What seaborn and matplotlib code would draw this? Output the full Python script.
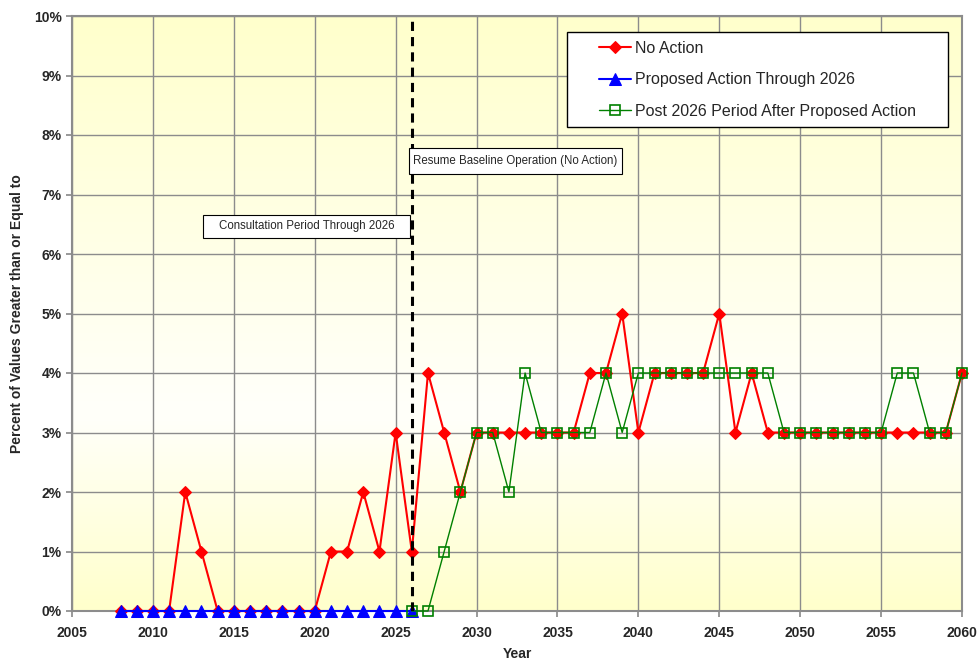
import numpy as np
import pandas as pd
import matplotlib
matplotlib.use("Agg")
import matplotlib.pyplot as plt
import seaborn as sns
from matplotlib.colors import LinearSegmentedColormap
from matplotlib.patches import Rectangle

sns.set_theme(style="white")
plt.rcParams['font.family'] = ['Liberation Sans', 'DejaVu Sans']

years_no_action = list(range(2008, 2061))
no_action = [0, 0, 0, 0, 2, 1, 0, 0, 0, 0, 0, 0, 0, 1, 1, 2, 1, 3, 1,
             4, 3, 2, 3, 3, 3, 3, 3, 3, 3, 4, 4, 5, 3, 4, 4, 4, 4, 5, 3, 4, 3,
             3, 3, 3, 3, 3, 3, 3, 3, 3, 3, 3, 4]
years_proposed = list(range(2008, 2027))
proposed = [0] * 19
years_post = list(range(2026, 2061))
post = [0, 0, 1, 2, 3, 3, 2, 4, 3, 3, 3, 3, 4, 3, 4, 4, 4, 4, 4, 4, 4, 4, 4,
        3, 3, 3, 3, 3, 3, 3, 4, 4, 3, 3, 4]

df_na = pd.DataFrame({"Year": years_no_action, "Pct": no_action})
df_pr = pd.DataFrame({"Year": years_proposed, "Pct": proposed})
df_po = pd.DataFrame({"Year": years_post, "Pct": post})

fig = plt.figure(figsize=(9.77, 6.62), dpi=100)
ax = fig.add_axes([72 / 977, 1 - 611 / 662, (962 - 72) / 977, (611 - 16) / 662])

# background gradient
cmap = LinearSegmentedColormap.from_list("bg", ["#FFFFCC", "#FFFFFA", "#FFFFCC"])
grad = np.concatenate([np.linspace(0, 0.5, 50), np.linspace(0.5, 1, 100)])[:, None]
ax.imshow(grad, aspect="auto", cmap=cmap, extent=[2005, 2060, 0, 10], origin="lower", zorder=0)

ax.set_xlim(2005, 2060)
ax.set_ylim(0, 10)
ax.set_xticks(range(2005, 2061, 5))
ax.set_yticks(range(0, 11))
ax.set_yticklabels([f"{i}%" for i in range(0, 11)])
ax.grid(True, color="#8c8c8c", linewidth=1.0, zorder=1)
ax.set_axisbelow(True)

sns.lineplot(data=df_na, x="Year", y="Pct", ax=ax, color="#FF0000", linewidth=1.5,
             marker="D", markersize=6.5, markeredgecolor="#FF0000", label="No Action")
sns.lineplot(data=df_pr, x="Year", y="Pct", ax=ax, color="#0000FF", linewidth=1.5,
             marker="^", markersize=8.5, markeredgecolor="#0000FF", label="Proposed Action Through 2026")
sns.lineplot(data=df_po, x="Year", y="Pct", ax=ax, color="#008000", linewidth=1.0,
             marker="s", markersize=6.8, markerfacecolor="none", markeredgecolor="#008000",
             markeredgewidth=1.2, label="Post 2026 Period After Proposed Action")
for ln, z in zip(ax.lines, [4, 5, 6]):
    ln.set_zorder(z)
    ln.set_clip_on(False)

ax.axvline(2026, color="black", linestyle=(0, (3, 2)), linewidth=2.2, zorder=7)

narrow = ["Liberation Sans Narrow", "Liberation Sans"]
ax.add_patch(Rectangle((2025.83, 7.345), 2038.99 - 2025.83, 7.78 - 7.345, facecolor="white",
                       edgecolor="black", linewidth=0.8, zorder=8))
ax.text(2032.41, 7.56, "Resume Baseline Operation (No Action)", fontsize=8.3, ha="center",
        va="center", family=narrow, zorder=9)
ax.add_patch(Rectangle((2013.10, 6.27), 2025.89 - 2013.10, 6.655 - 6.27, facecolor="white",
                       edgecolor="black", linewidth=0.8, zorder=8))
ax.text(2019.52, 6.47, "Consultation Period Through 2026", fontsize=8.3, ha="center",
        va="center", family=narrow, zorder=9)

for s in ax.spines.values():
    s.set_color("#8c8c8c")
    s.set_linewidth(1.5)
ax.tick_params(axis="both", which="both", direction="out", length=4, color="#8c8c8c",
               labelsize=10, bottom=True, left=True)
ax.tick_params(axis="x", pad=7)
for lbl in ax.get_xticklabels() + ax.get_yticklabels():
    lbl.set_fontweight("bold")

ax.set_xlabel("Year", fontsize=10, fontweight="bold", labelpad=5)
ax.set_ylabel("Percent of Values Greater than or Equal to", fontsize=10, fontweight="bold", labelpad=7)

# legend frame drawn manually (figure pixel coords)
ax.add_patch(Rectangle((567 / 977, 1 - 127 / 662), (948 - 567) / 977, (127 - 32) / 662,
                       transform=fig.transFigure, facecolor="white", edgecolor="black",
                       linewidth=1.0, zorder=20, clip_on=False))
leg = ax.legend(loc="upper left", bbox_to_anchor=(594 / 977, 1 - 36 / 662),
                bbox_transform=fig.transFigure,
                fontsize=11.5, frameon=False, borderpad=0.3, labelspacing=1.03,
                handlelength=2.0, borderaxespad=0, handletextpad=0.25)
leg.set_zorder(21)

fig.savefig("out.png", dpi=100)
